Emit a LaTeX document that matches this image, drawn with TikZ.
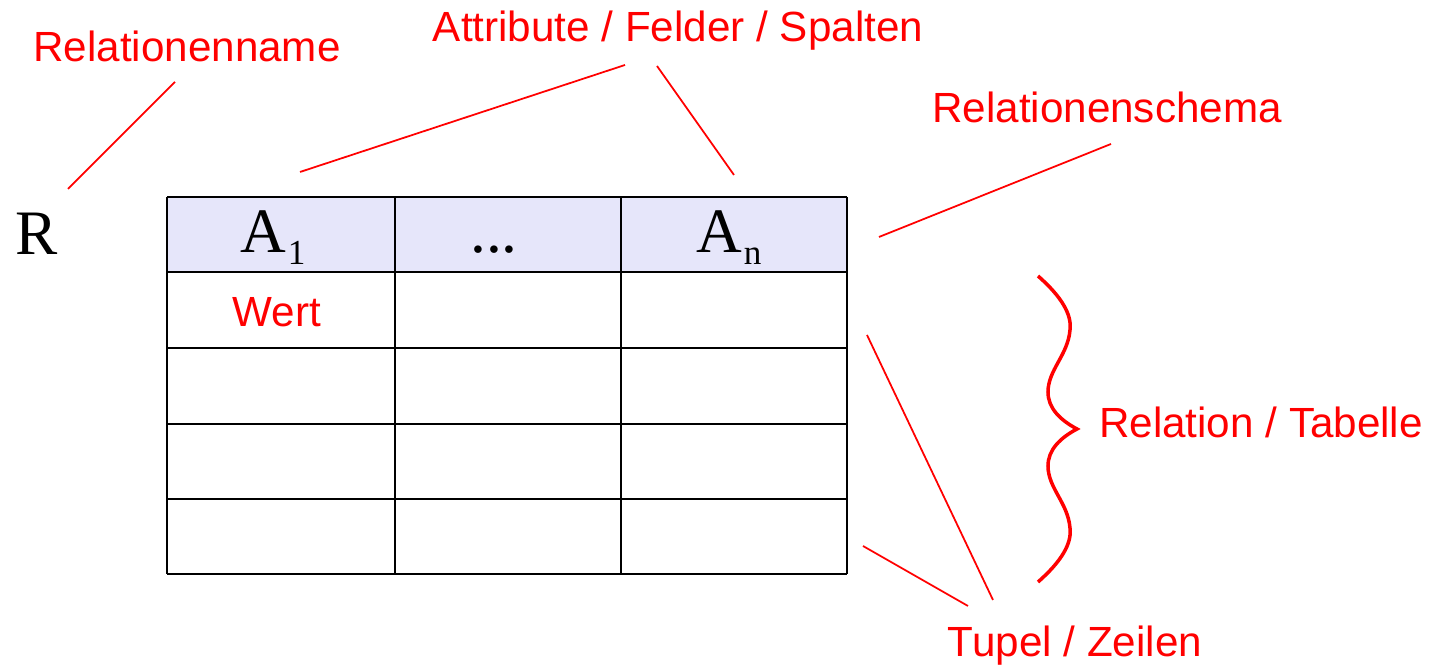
\documentclass[tikz,border=0pt]{standalone}
\usepackage{fontspec}
\setmainfont{Liberation Serif}
\setsansfont{Liberation Sans}
\definecolor{headfill}{RGB}{230,230,250}
\tikzset{
  lbl/.style={anchor=base,inner sep=0pt,text=red,font=\sffamily\fontsize{12}{14}\selectfont},
  hd/.style={anchor=base,inner sep=0pt,font=\fontsize{18}{20}\selectfont},
  pointer/.style={red,line width=0.5pt},
  tablerule/.style={black,line width=0.6pt}
}
\newcommand{\attrsub}[1]{\kern0.5pt\raisebox{-3.4pt}{\fontsize{10}{10}\selectfont #1}}
\begin{document}
\begin{tikzpicture}[x=0.01cm,y=-0.01cm]
\useasboundingbox (0,0) rectangle (1432,665);

% table
\fill[headfill] (167,197) rectangle (847,272);
\foreach \y in {197,272,348,424,499,574}
  \draw[tablerule] (167,\y) -- (847,\y);
\foreach \x in {167,395,621,847}
  \draw[tablerule] (\x,197) -- (\x,574);

\node[hd] (R) at (37,255) {R};
\node[hd] (a1) at (273,253) {A\attrsub{1}};
\node[hd] (dots) at (494,253) {...};
\node[hd] (an) at (729,253) {A\attrsub{n}};
\node[lbl] (wert) at (277,327) {Wert};

% labels
\node[lbl] (relname) at (187,62) {Relationenname};
\node[lbl] (attr) at (678,42) {Attribute / Felder / Spalten};
\node[lbl] (schema) at (1107,123) {Relationenschema};
\node[lbl] (rel) at (1261,438) {Relation / Tabelle};
\node[lbl] (tupel) at (1075,657) {Tupel / Zeilen};

% pointer ends
\coordinate (relnameA) at (175,82);
\coordinate (relnameB) at (68,189);
\coordinate (attrA) at (625,65);
\coordinate (attrB) at (300,172);
\coordinate (attrC) at (657,66);
\coordinate (attrD) at (734,175);
\coordinate (schemaA) at (1111,144);
\coordinate (schemaB) at (879,237);
\coordinate (tupelA) at (993,600);
\coordinate (tupelB) at (867,335);
\coordinate (tupelC) at (968,606);
\coordinate (tupelD) at (863,546);

\draw[pointer] (relnameA) -- (relnameB);
\draw[pointer] (attrA) -- (attrB);
\draw[pointer] (attrC) -- (attrD);
\draw[pointer] (schemaA) -- (schemaB);
\draw[pointer] (tupelA) -- (tupelB);
\draw[pointer] (tupelC) -- (tupelD);

% brace
\draw[red,line width=1pt]
  (1038,276) .. controls (1062,297) and (1072,315) .. (1070,330)
  .. controls (1068,355) and (1048,370) .. (1048,392)
  .. controls (1048,408) and (1060,420) .. (1077,429)
  .. controls (1060,438) and (1048,450) .. (1048,466)
  .. controls (1048,488) and (1068,503) .. (1070,528)
  .. controls (1072,543) and (1062,561) .. (1038,582);
\end{tikzpicture}
\end{document}
